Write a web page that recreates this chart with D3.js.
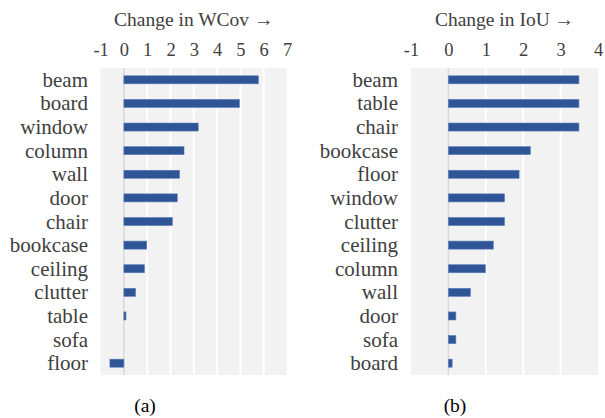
<!DOCTYPE html>
<html><head><meta charset="utf-8">
<script src="https://cdn.jsdelivr.net/npm/d3@7"></script>
<style>body{margin:0;background:#fff}svg{display:block}</style>
</head><body>
<svg id="c" width="605" height="418"></svg>
<script>
// Data
const catsA = ["beam","board","window","column","wall","door","chair","bookcase","ceiling","clutter","table","sofa","floor"];
const valsA = [5.77,4.96,3.19,2.58,2.39,2.29,2.08,0.98,0.88,0.50,0.09,0,-0.60];
const ticksA = [-1,0,1,2,3,4,5,6,7];
const titleA = "Change in WCov →";
const captionA = "(a)";

const catsB = ["beam","table","chair","bookcase","floor","window","clutter","ceiling","column","wall","door","sofa","board"];
const valsB = [3.49,3.49,3.49,2.19,1.89,1.50,1.50,1.20,0.99,0.59,0.20,0.20,0.10];
const ticksB = [-1,0,1,2,3,4];
const titleB = "Change in IoU →";
const captionB = "(b)";

const svg = d3.select("#c");
const font = "'Liberation Serif','Times New Roman',serif";

function panel(cats, vals, ticks, title, caption, x0, x1, labelX, capX) {
  const top = 68, bottom = 375;
  const x = d3.scaleLinear().domain([ticks[0], ticks[ticks.length-1]]).range([x0, x1]);
  const y = d3.scaleBand().domain(cats).range([top, bottom]).paddingInner(0.66).paddingOuter(0.33);
  const g = svg.append("g");
  g.append("rect").attr("x", x0).attr("y", top).attr("width", x1 - x0).attr("height", bottom - top).attr("fill", "#f2f2f2");
  g.selectAll("line.grid").data(ticks.filter(t => t !== 0 && t !== ticks[0] && t !== ticks[ticks.length-1])).join("line")
    .attr("x1", d => x(d)).attr("x2", d => x(d)).attr("y1", top).attr("y2", bottom)
    .attr("stroke", "#ffffff").attr("stroke-width", 2);
  g.append("line").attr("x1", x(0)).attr("x2", x(0)).attr("y1", top).attr("y2", bottom)
    .attr("stroke", "#d9d9d9").attr("stroke-width", 1.5);
  g.selectAll("rect.bar").data(cats.map((c, i) => ({c, v: vals[i]}))).join("rect")
    .attr("x", d => x(Math.min(0, d.v))).attr("y", d => y(d.c))
    .attr("width", d => Math.abs(x(d.v) - x(0))).attr("height", y.bandwidth())
    .attr("fill", "#2f5597").attr("stroke", d => d.v === 0 ? "none" : "#5b7dbb").attr("stroke-width", 0.6);
  // axis on top
  const ax = d3.axisTop(x).tickValues(ticks).tickSize(0).tickFormat(d => String(d));
  const axg = g.append("g").attr("transform", `translate(0,${top - 9})`).call(ax);
  axg.select(".domain").remove();
  axg.selectAll("text").attr("font-family", font).attr("font-size", 18.5).attr("fill", "#404040").attr("dy", 0);
  g.append("text").attr("x", (x0 + x1) / 2).attr("y", 26).attr("text-anchor", "middle")
    .attr("font-family", font).attr("font-size", 19.5).attr("fill", "#404040").text(title);
  g.selectAll("text.cat").data(cats).join("text")
    .attr("x", labelX).attr("y", d => y(d) + y.bandwidth() / 2 + 7).attr("text-anchor", "end")
    .attr("font-family", font).attr("font-size", 21).attr("fill", "#404040").text(d => d);
  g.append("text").attr("x", capX).attr("y", 412).attr("text-anchor", "middle")
    .attr("font-family", font).attr("font-size", 19.5).attr("fill", "#000").text(caption);
}
panel(catsA, valsA, ticksA, titleA, captionA, 100.6, 287, 88, 145);
panel(catsB, valsB, ticksB, titleB, captionB, 411, 598, 398, 455);
</script>
</body></html>
